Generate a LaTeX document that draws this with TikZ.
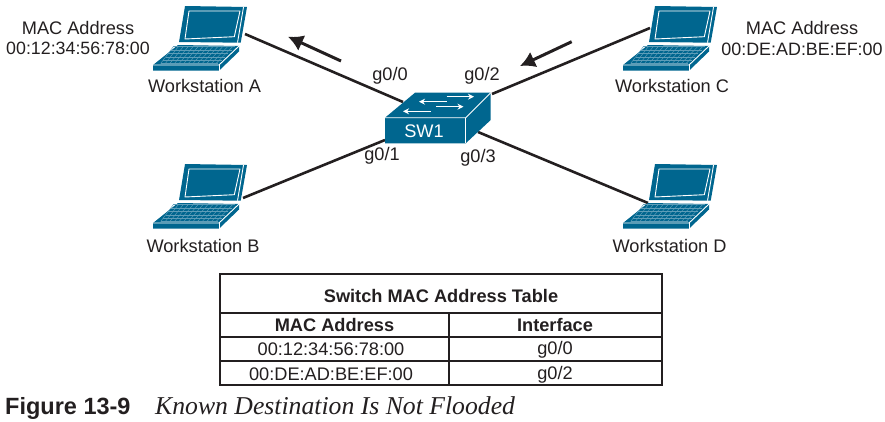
\documentclass[tikz,border=0pt]{standalone}
\usepackage{fontspec}
\setmainfont{Liberation Sans}
\newfontfamily\capserif{Liberation Serif}
\usetikzlibrary{calc,arrows.meta}
\definecolor{ciscoteal}{HTML}{00668F}
\definecolor{inkblack}{HTML}{231F20}
\definecolor{keyline}{HTML}{5E9DB8}
\tikzset{
  lbl/.style={inner sep=0pt,text=inkblack,font=\fontsize{18.2}{20}\selectfont,align=center},
  tablecell/.style={inner sep=0pt,text=inkblack,font=\fontsize{18.2}{20}\selectfont},
  tablehead/.style={inner sep=0pt,text=inkblack,font=\fontsize{18.2}{20}\selectfont\bfseries},
  wire/.style={draw=inkblack,line width=2.6pt},
  flow/.style={draw=inkblack,line width=3pt,-{Latex[length=15pt,width=17pt]}},
  rule/.style={draw=inkblack,line width=2.2pt},
  hair/.style={draw=white,line width=0.9pt,line join=round},
  laptop/.pic={
    \fill[ciscoteal] (185,6) -- (247,7) -- (240.7,42.7) -- (179,42) -- cycle;
    \draw[hair] (189,11) -- (240,11) -- (234.3,36.7) -- (185,39) -- cycle;
    \draw[hair] (243.5,7) -- (237.5,42.7);
    \fill[ciscoteal] (178,45) -- (239,46) -- (239,51.5) -- (219,70.7) -- (153,70.7) -- (153,65) -- cycle;
    \draw[hair] (153,65) -- (219,65) -- (239,46);
    \draw[hair] (219,65) -- (219,70.7);
    \coordinate (k1) at (173.3,46.7);
    \coordinate (k2) at (235,46.7);
    \coordinate (k3) at (218.3,63.5);
    \coordinate (k4) at (160.7,63.5);
    \foreach \f in {0,0.2,0.4,0.6,0.8,1} {
      \draw[keyline,line width=0.45pt] ($(k1)!\f!(k4)$) -- ($(k2)!\f!(k3)$);
    }
    \foreach \f in {0,0.08,...,1.01} {
      \draw[keyline,line width=0.45pt] ($(k1)!\f!(k2)$) -- ($(k4)!\f!(k3)$);
    }
  }
}
\begin{document}
\begin{tikzpicture}[x=1pt,y=-1pt]
\useasboundingbox (0,0) rectangle (885,421);
% connector ends
\coordinate (wsA) at (245,34);
\coordinate (wsB) at (243,198);
\coordinate (wsC) at (650,28);
\coordinate (wsD) at (648,203);
\coordinate (swA) at (403,102);
\coordinate (swB) at (385,140);
\coordinate (swC) at (492,94);
\coordinate (swD) at (478,132);
\coordinate (flowAs) at (341,61);
\coordinate (flowAe) at (288,36.7);
\coordinate (flowCs) at (571.7,41.7);
\coordinate (flowCe) at (520,66);
\draw[wire] (wsA) -- (swA);
\draw[wire] (wsB) -- (swB);
\draw[wire] (wsC) -- (swC);
\draw[wire] (wsD) -- (swD);
\draw[flow] (flowAs) -- (flowAe);
\draw[flow] (flowCs) -- (flowCe);
% laptops
\pic at (0,0) {laptop};
\pic at (0,158) {laptop};
\pic at (470,0) {laptop};
\pic at (470,158) {laptop};
% switch
\fill[ciscoteal] (385,117.7) -- (415,92.7) -- (490.7,92.7) -- (490.7,120) -- (465.7,143.3) -- (385,143.3) -- cycle;
\draw[hair] (385,117.7) -- (465.7,117.7) -- (490.7,92.7);
\draw[hair] (465.7,117.7) -- (465.7,143.3);
\foreach \a/\b in {{446.7,96.7}/{474,96.7},{446.7,101.7}/{419,101.7},{436,106.7}/{463.5,106.7},{430.7,111.3}/{403,111.3}} {
  \draw[white,line width=1pt,-{Stealth[length=6pt,width=6pt]}] (\a) -- (\b);
}
\node[inner sep=0pt,text=white,font=\fontsize{18.2}{20}\selectfont] (sw) at (424,131) {SW1};
% labels
\node[lbl] (macA) at (78,28) {MAC Address};
\node[lbl,font=\fontsize{17.8}{20}\selectfont] (addrA) at (78,48.5) {00:12:34:56:78:00};
\node[lbl] (macC) at (802,28) {MAC Address};
\node[lbl,font=\fontsize{17.9}{20}\selectfont] (addrC) at (802,49) {00:DE:AD:BE:EF:00};
\node[lbl] (nameA) at (204.5,86) {Workstation A};
\node[lbl] (nameB) at (203,245.5) {Workstation B};
\node[lbl] (nameC) at (672,86) {Workstation C};
\node[lbl] (nameD) at (669.5,245.5) {Workstation D};
\node[lbl] (p0) at (390,75.5) {g0/0};
\node[lbl] (p2) at (482,75.5) {g0/2};
\node[lbl] (p1) at (382,155.5) {g0/1};
\node[lbl] (p3) at (478,158) {g0/3};
% table
\node[draw=inkblack,line width=2.2pt,outer sep=0pt,minimum width=441.7pt,minimum height=110.7pt,anchor=north west,inner sep=0pt] (tbl) at (220,274.3) {};
\coordinate (r1l) at (220,313.3); \coordinate (r1r) at (661.7,313.3);
\coordinate (r2l) at (220,336.7); \coordinate (r2r) at (661.7,336.7);
\coordinate (r3l) at (220,361);   \coordinate (r3r) at (661.7,361);
\coordinate (ct) at (449.3,313.3); \coordinate (cb) at (449.3,385);
\draw[rule] (r1l) -- (r1r);
\draw[rule] (r2l) -- (r2r);
\draw[rule] (r3l) -- (r3r);
\draw[rule] (ct) -- (cb);
\node[tablehead] (title) at (441,295.5) {Switch MAC Address Table};
\node[tablehead] (h1) at (334.5,325) {MAC Address};
\node[tablehead] (h2) at (555,325) {Interface};
\node[tablecell] (c11) at (331,349) {00:12:34:56:78:00};
\node[tablecell] (c12) at (555,350) {g0/0};
\node[tablecell] (c21) at (331,374) {00:DE:AD:BE:EF:00};
\node[tablecell] (c22) at (555,375) {g0/2};
% caption
\node[anchor=base west,inner sep=0pt,text=inkblack,font=\fontsize{23.5}{26}\selectfont\bfseries] (figno) at (5,414) {Figure 13-9};
\node[anchor=base west,inner sep=0pt,text=inkblack,font=\fontsize{25.7}{28}\capserif\itshape] (figcap) at (155,414) {Known Destination Is Not Flooded};
\end{tikzpicture}
\end{document}
